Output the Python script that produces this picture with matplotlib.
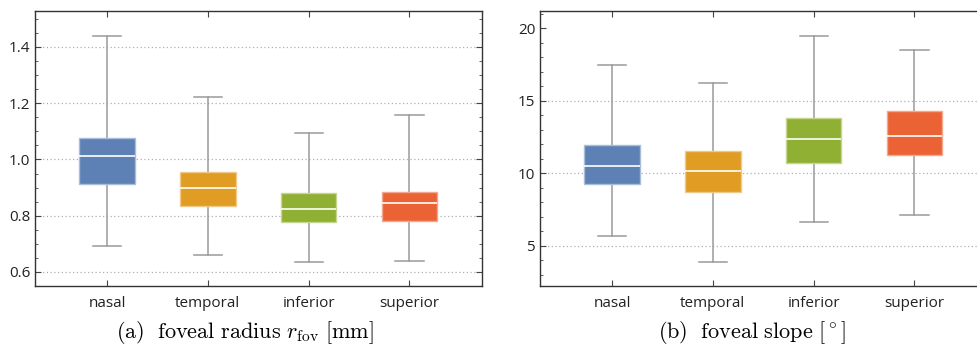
import matplotlib.pyplot as plt
from matplotlib.ticker import MultipleLocator

# Daten
regions = ["nasal", "temporal", "inferior", "superior"]
colors = ["#5E81B5", "#E19C24", "#8FB032", "#EB6235"]
edge_colors = ["#a9bcd9", "#efc98a", "#c4d690", "#f3a88d"]

# foveal radius [mm]: whislo, q1, med, q3, whishi
radius_lo = [0.694, 0.660, 0.637, 0.640]
radius_q1 = [0.912, 0.833, 0.777, 0.781]
radius_med = [1.011, 0.899, 0.823, 0.845]
radius_q3 = [1.075, 0.956, 0.880, 0.886]
radius_hi = [1.440, 1.221, 1.095, 1.157]

# foveal slope [deg]
slope_lo = [5.71, 3.92, 6.64, 7.13]
slope_q1 = [9.30, 8.74, 10.72, 11.25]
slope_med = [10.51, 10.14, 12.35, 12.60]
slope_q3 = [11.94, 11.57, 13.79, 14.30]
slope_hi = [17.45, 16.25, 19.47, 18.50]

plt.rcParams["font.family"] = ["Open Sans", "DejaVu Sans"]
plt.rcParams["mathtext.fontset"] = "cm"


def draw_boxes(ax, lo, q1, med, q3, hi):
    stats = []
    for i in range(len(regions)):
        stats.append({"whislo": lo[i], "q1": q1[i], "med": med[i],
                      "q3": q3[i], "whishi": hi[i], "label": regions[i]})
    bp = ax.bxp(stats, positions=range(1, 5), widths=0.55, capwidths=0.28,
                showfliers=False, patch_artist=True,
                whiskerprops=dict(color="#9a9a9a", lw=1.1),
                capprops=dict(color="#9a9a9a", lw=1.1),
                medianprops=dict(color="white", lw=1.2),
                boxprops=dict(lw=1.0))
    for patch, c, ec in zip(bp["boxes"], colors, edge_colors):
        patch.set_facecolor(c)
        patch.set_edgecolor(ec)
        patch.set_zorder(3)
    for m in bp["medians"]:
        m.set_zorder(4)
    ax.set_xlim(0.285, 4.72)
    ax.tick_params(which="both", direction="in", top=True, right=True,
                   colors="#444444", labelcolor="#222222", labelsize=11)
    ax.tick_params(which="major", length=4)
    ax.tick_params(which="minor", length=2.5)
    ax.tick_params(axis="x", pad=7)
    for s in ax.spines.values():
        s.set_color("#333333")
        s.set_linewidth(1.0)


fig = plt.figure(figsize=(9.78, 3.46), dpi=100)
ax1 = fig.add_axes([35 / 978, 60 / 346, 447 / 978, 275 / 346])
ax2 = fig.add_axes([540 / 978, 60 / 346, 447 / 978, 275 / 346])

draw_boxes(ax1, radius_lo, radius_q1, radius_med, radius_q3, radius_hi)
ax1.set_ylim(0.55, 1.528)
ax1.yaxis.set_major_locator(MultipleLocator(0.2))
ax1.yaxis.set_minor_locator(MultipleLocator(0.05))
ax1.yaxis.set_major_formatter(lambda v, p: f"{v:.1f}")
for g in [0.6, 0.8, 1.0, 1.2, 1.4]:
    ax1.axhline(g, color="#b0b0b0", lw=0.9, ls=(0, (1, 2)), zorder=1)

draw_boxes(ax2, slope_lo, slope_q1, slope_med, slope_q3, slope_hi)
ax2.set_ylim(2.24, 21.19)
ax2.yaxis.set_major_locator(MultipleLocator(5))
ax2.yaxis.set_minor_locator(MultipleLocator(1))
for g in [5, 10, 15]:
    ax2.axhline(g, color="#b0b0b0", lw=0.9, ls=(0, (1, 2)), zorder=1)

fig.text(245 / 978, 8 / 346, r"$\mathrm{(a)\ \ foveal\ radius}\ r_\mathrm{fov}\ [\mathrm{mm}]$",
         ha="center", va="baseline", fontsize=16)
fig.text(752 / 978, 8 / 346, r"$\mathrm{(b)\ \ foveal\ slope\ [^\circ]}$",
         ha="center", va="baseline", fontsize=16)

fig.savefig("out.png", dpi=100)
